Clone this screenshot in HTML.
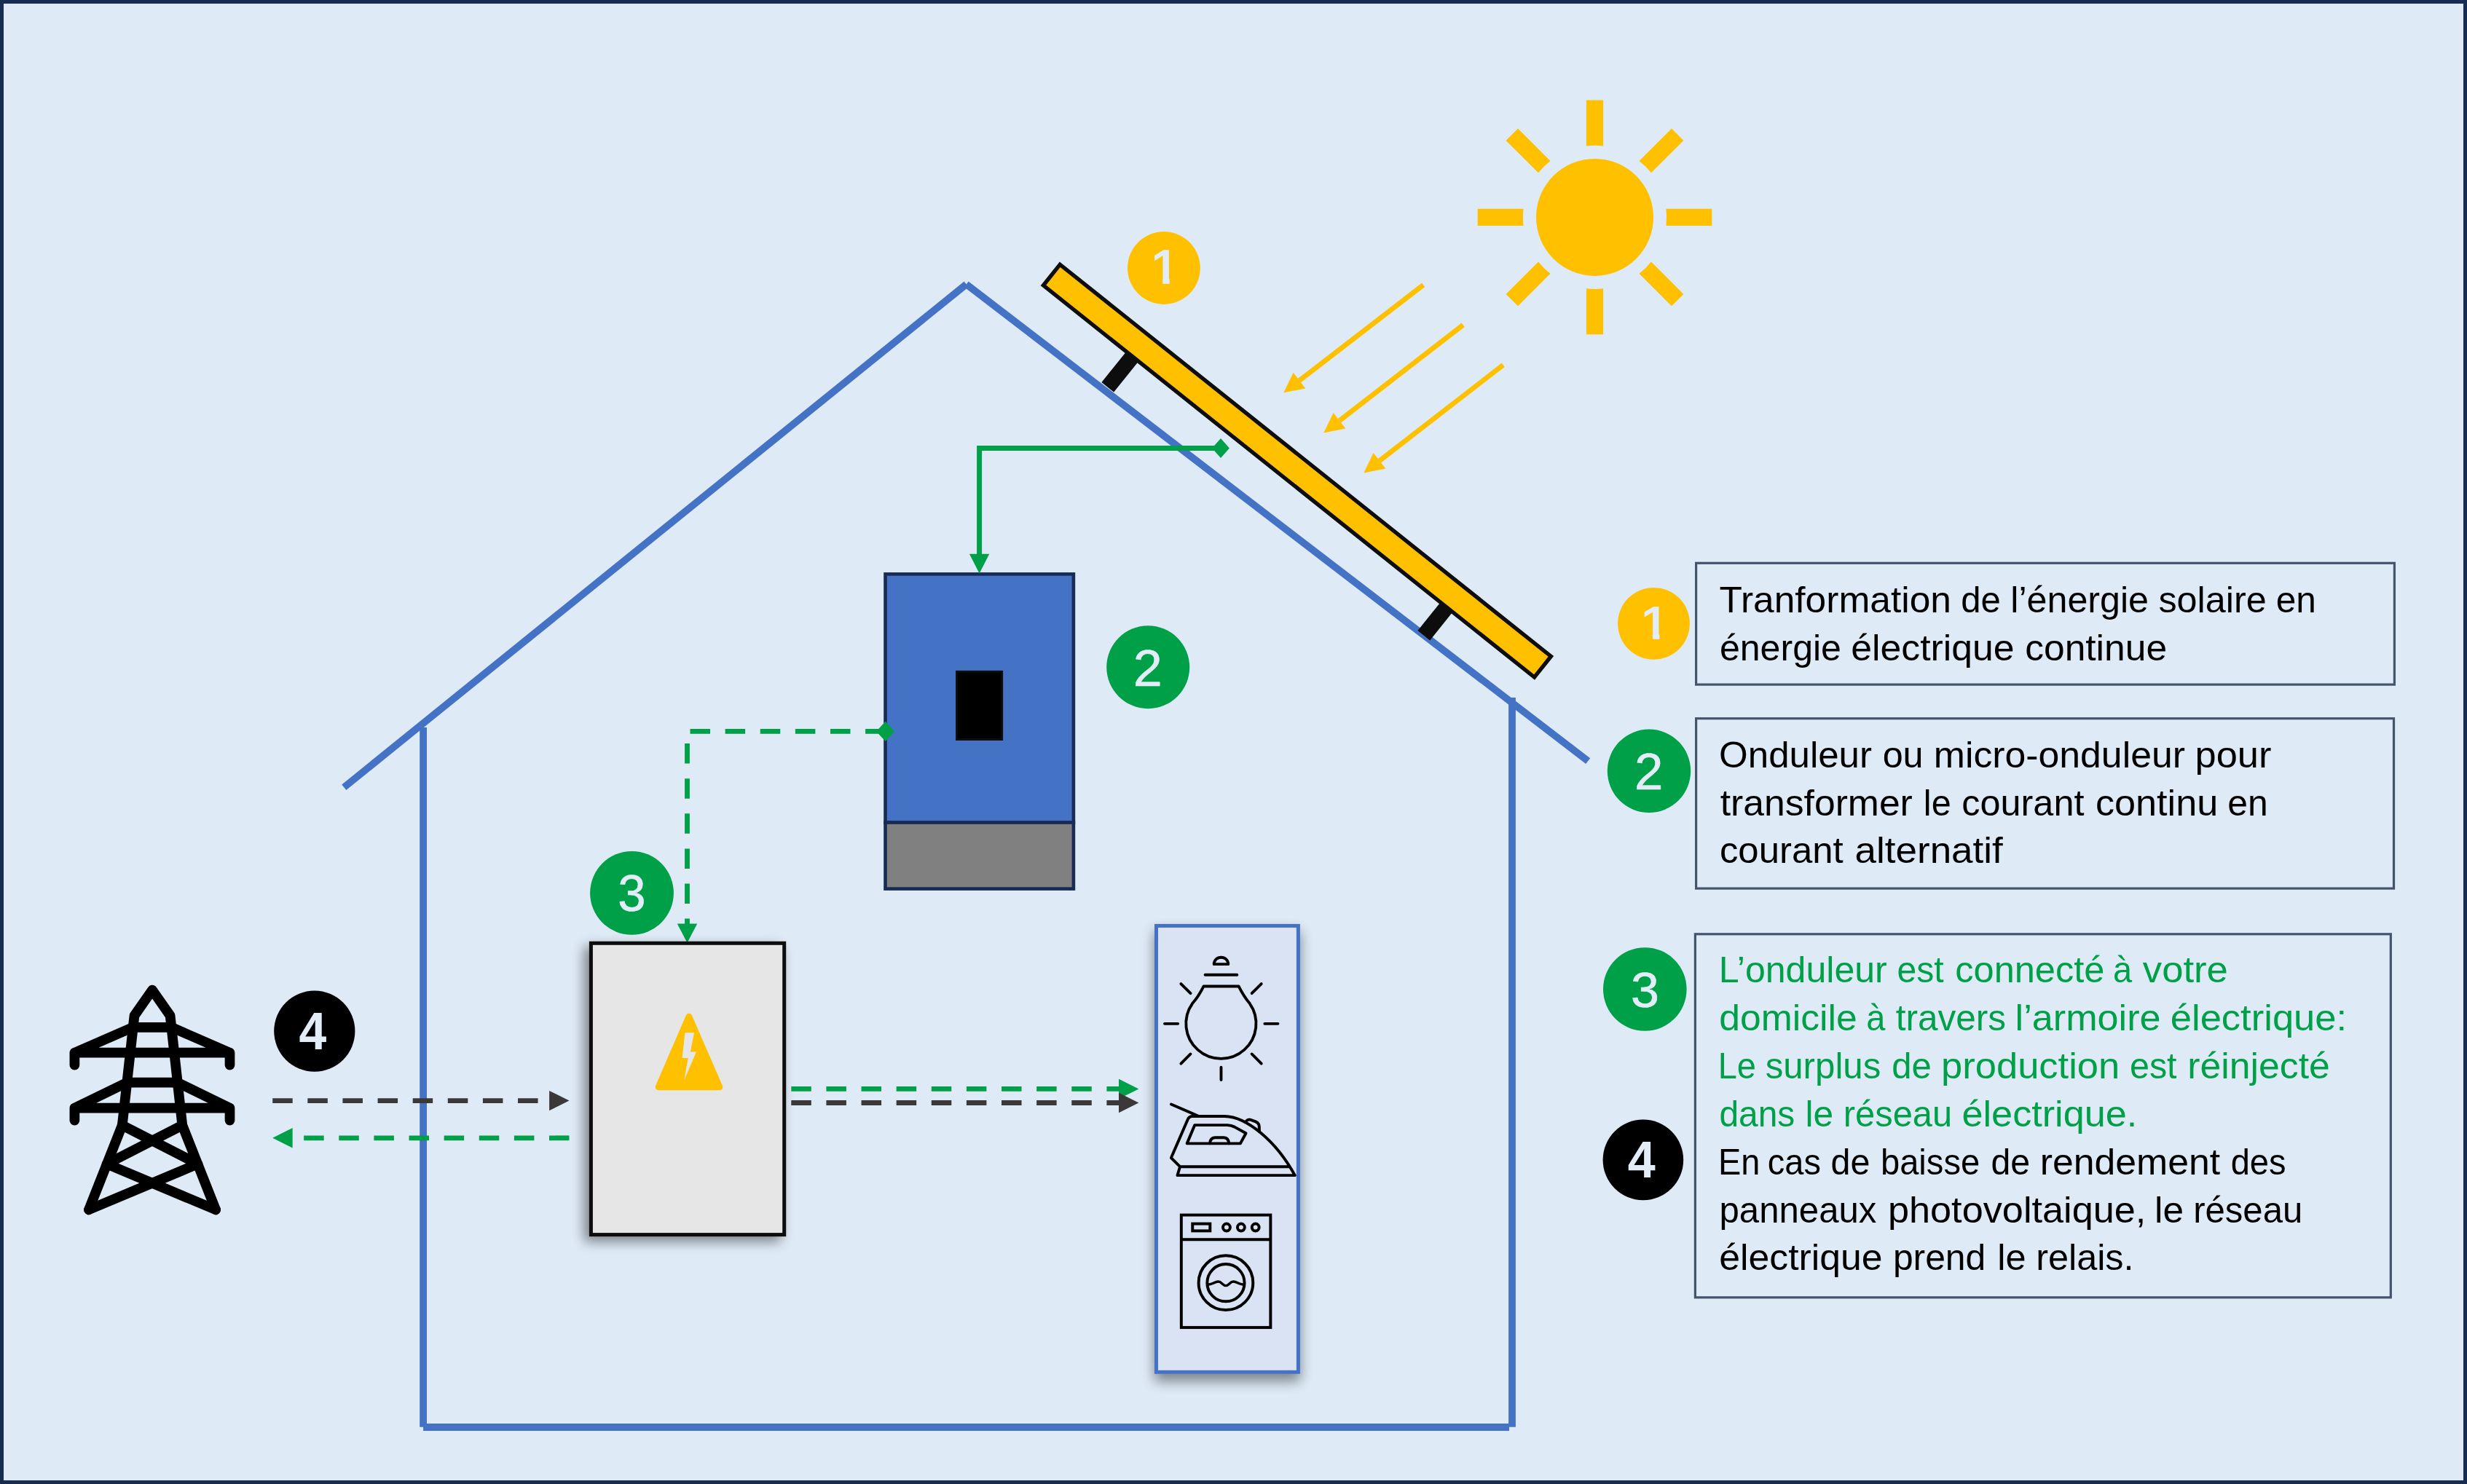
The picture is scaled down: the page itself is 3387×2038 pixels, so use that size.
<!DOCTYPE html>
<html lang="fr"><head><meta charset="utf-8"><title>Autoconsommation photovoltaïque</title>
<style>html,body{margin:0;padding:0;background:#DEEAF6;overflow:hidden;}svg{display:block}</style></head>
<body><svg width="3387" height="2038" viewBox="0 0 3387 2038">
<rect x="0" y="0" width="3387" height="2038" fill="#182B53"/>
<rect x="5" y="5" width="3377" height="2028" fill="#DEEAF6"/>
<g stroke="#4472C4" stroke-width="9.8" fill="none">
<line x1="472.3" y1="1081.2" x2="1326.7" y2="390.4"/>
<line x1="1326.7" y1="390.4" x2="2180.2" y2="1045.1"/>
<line x1="581.1" y1="998.9" x2="581.1" y2="1959.8"/>
<line x1="2076" y1="957.9" x2="2076" y2="1959.8"/>
<line x1="581.1" y1="1960" x2="2072" y2="1960"/>
</g>
<g stroke="#0D0D0D" stroke-width="21.5">
<line x1="1559.8" y1="483.3" x2="1520.8" y2="531.7"/>
<line x1="1990.2" y1="828.6" x2="1954.8" y2="872.8"/>
</g>
<rect x="-431.3" y="-18.3" width="862.6" height="36.6" fill="#FFC000" stroke="#0D0D0D" stroke-width="5.4" transform="translate(1780.9,646.65) rotate(38.6)"/>
<circle cx="2189.5" cy="298.4" r="80.5" fill="#FFC000"/>
<path d="M-11.60,-160.80 L11.60,-160.80 L11.60,-97.92 A98.6,98.6 0 0 0 -11.60,-97.92 Z" fill="#FFC000" transform="translate(2189.5,298.4) rotate(0)"/>
<path d="M-11.60,-160.80 L11.60,-160.80 L11.60,-97.92 A98.6,98.6 0 0 0 -11.60,-97.92 Z" fill="#FFC000" transform="translate(2189.5,298.4) rotate(45)"/>
<path d="M-11.60,-160.80 L11.60,-160.80 L11.60,-97.92 A98.6,98.6 0 0 0 -11.60,-97.92 Z" fill="#FFC000" transform="translate(2189.5,298.4) rotate(90)"/>
<path d="M-11.60,-160.80 L11.60,-160.80 L11.60,-97.92 A98.6,98.6 0 0 0 -11.60,-97.92 Z" fill="#FFC000" transform="translate(2189.5,298.4) rotate(135)"/>
<path d="M-11.60,-160.80 L11.60,-160.80 L11.60,-97.92 A98.6,98.6 0 0 0 -11.60,-97.92 Z" fill="#FFC000" transform="translate(2189.5,298.4) rotate(180)"/>
<path d="M-11.60,-160.80 L11.60,-160.80 L11.60,-97.92 A98.6,98.6 0 0 0 -11.60,-97.92 Z" fill="#FFC000" transform="translate(2189.5,298.4) rotate(225)"/>
<path d="M-11.60,-160.80 L11.60,-160.80 L11.60,-97.92 A98.6,98.6 0 0 0 -11.60,-97.92 Z" fill="#FFC000" transform="translate(2189.5,298.4) rotate(270)"/>
<path d="M-11.60,-160.80 L11.60,-160.80 L11.60,-97.92 A98.6,98.6 0 0 0 -11.60,-97.92 Z" fill="#FFC000" transform="translate(2189.5,298.4) rotate(315)"/>
<path d="M1954.20,391.30 L1784.00,522.57" stroke="#FFC000" stroke-width="6.85" fill="none"/><polygon points="1762.30,539.30 1775.63,511.72 1792.36,533.42" fill="#FFC000"/>
<path d="M2008.70,446.20 L1838.96,577.72" stroke="#FFC000" stroke-width="6.85" fill="none"/><polygon points="1817.30,594.50 1830.57,566.89 1847.35,588.55" fill="#FFC000"/>
<path d="M2063.70,501.20 L1893.96,632.72" stroke="#FFC000" stroke-width="6.85" fill="none"/><polygon points="1872.30,649.50 1885.57,621.89 1902.35,643.55" fill="#FFC000"/>
<rect x="1215.5" y="788.4" width="258.4" height="341.2" fill="#4472C4" stroke="#182B53" stroke-width="4.6"/>
<rect x="1215.5" y="1129.6" width="258.4" height="91" fill="#808080" stroke="#182B53" stroke-width="4.6"/>
<rect x="1313.6" y="922.4" width="62" height="93.1" fill="#000" stroke="#0D0D0D" stroke-width="3"/>
<path d="M1676,615.6 L1344.6,615.6 L1344.6,762" stroke="#00A048" stroke-width="7" fill="none"/>
<polygon points="1330.9,760.7 1358.3,760.7 1344.6,787.4" fill="#00A048"/>
<polygon points="1664.1,615.6 1676,602.1 1687.9,615.6 1676,629.1" fill="#00A048"/>
<path d="M1215.6,1004.4 L943.5,1004.4 L943.5,1270" stroke="#00A048" stroke-width="6.85" stroke-dasharray="27.5 20.62" fill="none"/>
<polygon points="929.8,1268.6 957.2,1268.6 943.5,1294.8" fill="#00A048"/>
<polygon points="1203.0,1004.4 1215.6,990.8 1228.1999999999998,1004.4 1215.6,1018.0" fill="#00A048"/>
<defs>
<filter id="sh1" x="-20%" y="-20%" width="140%" height="140%"><feGaussianBlur in="SourceAlpha" stdDeviation="8.5"/><feOffset dx="-7" dy="7"/><feComponentTransfer><feFuncA type="linear" slope="0.45"/></feComponentTransfer><feMerge><feMergeNode/><feMergeNode in="SourceGraphic"/></feMerge></filter>
<filter id="sh2" x="-30%" y="-10%" width="160%" height="120%"><feGaussianBlur in="SourceAlpha" stdDeviation="9"/><feOffset dx="0" dy="10"/><feComponentTransfer><feFuncA type="linear" slope="0.45"/></feComponentTransfer><feMerge><feMergeNode/><feMergeNode in="SourceGraphic"/></feMerge></filter>
</defs>
<rect x="811.4" y="1295.3" width="265.3" height="400.3" fill="#E6E6E6" stroke="#0D0D0D" stroke-width="5" filter="url(#sh1)"/>
<polygon points="945.9,1396.1 904.1,1492.8 987.9,1492.8" fill="#FFC000" stroke="#FFC000" stroke-width="8.7" stroke-linejoin="round"/>
<polygon points="940.35,1418.32 952.99,1418.32 947.93,1444.61 956.02,1444.61 939.14,1483.73 944.70,1452.90 936.61,1452.90" fill="#E6E6E6"/>
<rect x="1587.5" y="1271.4" width="194.9" height="612.9" fill="#DAE3F3" stroke="#4472C4" stroke-width="5" filter="url(#sh2)"/>
<g transform="translate(1570,1250) scale(0.16849)" stroke="#000" stroke-width="23" fill="none" stroke-linecap="round" stroke-linejoin="round">
<path d="M490,620 L775,620 C810,690 830,720 865,760 A285.5,285.5 0 1 1 398,760 C435,720 455,690 490,620 Z"/>
<line x1="502" y1="527" x2="762" y2="527"/>
<path d="M574,440 A58,56 0 0 1 690,440 Z"/>
<line x1="172" y1="925" x2="280" y2="925"/><line x1="987" y1="925" x2="1095" y2="925"/>
<line x1="632" y1="1280" x2="632" y2="1383"/>
<line x1="305" y1="600" x2="383" y2="678"/><line x1="960" y1="600" x2="882" y2="678"/>
<line x1="305" y1="1250" x2="383" y2="1172"/><line x1="960" y1="1250" x2="882" y2="1172"/>
</g>
<g transform="translate(1570,1490) scale(0.10110)" stroke="#000" stroke-width="39" fill="none" stroke-linecap="round" stroke-linejoin="round">
<line x1="375" y1="262" x2="740" y2="420"/>
<path d="M495,1110 L375,990 L600,470 Q615,428 660,425 L1100,425 C1400,430 1800,760 2055,1228 L460,1228 L495,1110 L1975,1110"/>
<path d="M695,545 L1140,545 Q1190,548 1235,570 L1390,655 L1315,795 L590,795 Z"/>
<path d="M900,795 Q905,720 970,715 L1090,715 Q1155,720 1160,795"/>
<path d="M1392,492 Q1420,462 1455,474 L1522,498 Q1570,520 1570,562 L1573,628"/>
</g>
<g transform="translate(1590,1640) scale(0.14148)" stroke="#000" stroke-width="28" fill="none">
<rect x="225" y="202" width="866" height="1092"/>
<line x1="225" y1="440" x2="1091" y2="440"/>
<rect x="334" y="287" width="170" height="69"/>
<circle cx="664" cy="322" r="35"/><circle cx="805" cy="322" r="35"/><circle cx="945" cy="322" r="35"/>
<circle cx="657" cy="860" r="264"/><circle cx="657" cy="860" r="181"/>
<path d="M486,876 C522,882 548,848 584,848 C616,848 628,888 657,888 C686,888 698,848 730,848 C766,848 792,882 828,876" stroke-width="24"/>
</g>
<path d="M1086.30,1495.40 L1536.00,1495.40" stroke="#00A048" stroke-width="6.85" fill="none" stroke-dasharray="27.5 20.62"/><polygon points="1563.40,1495.40 1536.00,1509.10 1536.00,1481.70" fill="#00A048"/>
<path d="M1086.30,1514.50 L1536.00,1514.50" stroke="#3B3838" stroke-width="6.85" fill="none" stroke-dasharray="27.5 20.62"/><polygon points="1563.40,1514.50 1536.00,1528.20 1536.00,1500.80" fill="#3B3838"/>
<path d="M374.20,1511.60 L754.10,1511.60" stroke="#3B3838" stroke-width="6.85" fill="none" stroke-dasharray="27.5 20.62"/><polygon points="781.50,1511.60 754.10,1525.30 754.10,1497.90" fill="#3B3838"/>
<path d="M781.50,1562.80 L401.60,1562.80" stroke="#00A048" stroke-width="6.85" fill="none" stroke-dasharray="27.5 20.62"/><polygon points="374.20,1562.80 401.60,1549.10 401.60,1576.50" fill="#00A048"/>
<g stroke="#000" stroke-width="13.7" fill="none" stroke-linecap="round" stroke-linejoin="round">
<path d="M122,1661.3 L167.8,1545.3 L184.5,1394.7 L209.05,1359.6 L233.6,1394.7 L250.3,1545.3 L296.1,1661.3"/>
<path d="M102.4,1462.7 L102.4,1445.7 L182.6,1410.8 L235.5,1410.8 L315.5,1445.7 L315.5,1462.7 M102.4,1445.7 L315.5,1445.7"/>
<path d="M102.4,1538.7 L102.4,1521.7 L174.4,1486.7 L243.7,1486.7 L315.5,1521.7 L315.5,1538.7 M102.4,1521.7 L315.5,1521.7"/>
<path d="M167.8,1545.3 L271.5,1598.5 L122,1661.3 M250.3,1545.3 L146.6,1598.5 L296.1,1661.3"/>
</g>
<circle cx="1597.9" cy="368" r="49.9" fill="#FFC000"/>
<circle cx="1576.2" cy="916.2" r="57" fill="#00A048"/>
<circle cx="867.5" cy="1226.4" r="57.4" fill="#00A048"/>
<circle cx="431.8" cy="1416.1" r="55.6" fill="#000"/>
<circle cx="2270.5" cy="856.3" r="49.4" fill="#FFC000"/>
<circle cx="2264" cy="1058.8" r="57.2" fill="#00A048"/>
<circle cx="2258.3" cy="1358.5" r="57.3" fill="#00A048"/>
<circle cx="2255.9" cy="1592.9" r="55.3" fill="#000"/>
<g fill="none" stroke="#44546A" stroke-width="3.2">
<rect x="2328.6" y="773.3" width="958.8" height="166.8"/>
<rect x="2328.6" y="986.7" width="957.9" height="233.4"/>
<rect x="2327.4" y="1282.8" width="954.9" height="499"/>
</g>
<g font-family='"Liberation Sans", sans-serif'>
<defs><clipPath id="cl0"><rect x="1581.10" y="339.80" width="27.60" height="42.62"/><rect x="1596.23" y="343.80" width="9.47" height="46.50"/></clipPath><clipPath id="cl4"><rect x="2253.90" y="829.00" width="27.40" height="41.73"/><rect x="2268.91" y="833.00" width="9.39" height="45.50"/></clipPath></defs>
<g clip-path="url(#cl0)"><text transform="translate(1578.70,388.55) scale(1.1615,1)" font-size="63.95" fill="#E3EDF8" stroke="#E3EDF8" stroke-width="1.5">1</text></g>
<text transform="translate(1555.63,941.90) scale(1.0254,1)" font-size="70.12" font-weight="normal" fill="#E3EDF8" stroke="#E3EDF8" stroke-width="0.6" stroke-linejoin="round">2</text>
<text transform="translate(848.35,1250.89) scale(0.9718,1)" font-size="70.96" font-weight="normal" fill="#E3EDF8" stroke="#E3EDF8" stroke-width="0.6" stroke-linejoin="round">3</text>
<text transform="translate(410.60,1440.80) scale(0.9437,1)" font-size="71.96" font-weight="bold" fill="#E3EDF8">4</text>
<g clip-path="url(#cl4)"><text transform="translate(2251.58,876.75) scale(1.1754,1)" font-size="62.50" fill="#E3EDF8" stroke="#E3EDF8" stroke-width="1.5">1</text></g>
<text transform="translate(2243.88,1084.00) scale(0.9960,1)" font-size="71.11" font-weight="normal" fill="#E3EDF8" stroke="#E3EDF8" stroke-width="0.6" stroke-linejoin="round">2</text>
<text transform="translate(2238.91,1382.63) scale(1.0224,1)" font-size="68.45" font-weight="normal" fill="#E3EDF8" stroke="#E3EDF8" stroke-width="0.6" stroke-linejoin="round">3</text>
<text transform="translate(2234.70,1616.70) scale(0.9639,1)" font-size="70.83" font-weight="bold" fill="#E3EDF8">4</text>
<g font-size="50.0">
<text y="841.0" fill="#000" xml:space="preserve"><tspan x="2360.40" textLength="318.49" lengthAdjust="spacingAndGlyphs">Tranformation</tspan> <tspan x="2692.17" textLength="54.62" lengthAdjust="spacingAndGlyphs">de</tspan> <tspan x="2760.26" textLength="189.77" lengthAdjust="spacingAndGlyphs">l’énergie</tspan> <tspan x="2963.41" textLength="148.33" lengthAdjust="spacingAndGlyphs">solaire</tspan> <tspan x="3124.65" textLength="55.13" lengthAdjust="spacingAndGlyphs">en</tspan></text>
<text y="906.7" fill="#000" xml:space="preserve"><tspan x="2360.94" textLength="166.99" lengthAdjust="spacingAndGlyphs">énergie</tspan> <tspan x="2541.28" textLength="224.31" lengthAdjust="spacingAndGlyphs">électrique</tspan> <tspan x="2780.19" textLength="194.90" lengthAdjust="spacingAndGlyphs">continue</tspan></text>
<text y="1053.9" fill="#000" xml:space="preserve"><tspan x="2360.11" textLength="209.84" lengthAdjust="spacingAndGlyphs">Onduleur</tspan> <tspan x="2584.63" textLength="56.00" lengthAdjust="spacingAndGlyphs">ou</tspan> <tspan x="2654.77" textLength="345.19" lengthAdjust="spacingAndGlyphs">micro-onduleur</tspan> <tspan x="3013.52" textLength="104.93" lengthAdjust="spacingAndGlyphs">pour</tspan></text>
<text y="1119.6" fill="#000" xml:space="preserve"><tspan x="2361.70" textLength="264.15" lengthAdjust="spacingAndGlyphs">transformer</tspan> <tspan x="2640.86" textLength="37.80" lengthAdjust="spacingAndGlyphs">le</tspan> <tspan x="2693.33" textLength="168.10" lengthAdjust="spacingAndGlyphs">courant</tspan> <tspan x="2876.97" textLength="168.26" lengthAdjust="spacingAndGlyphs">continu</tspan> <tspan x="3058.24" textLength="55.46" lengthAdjust="spacingAndGlyphs">en</tspan></text>
<text y="1185.2" fill="#000" xml:space="preserve"><tspan x="2360.91" textLength="169.72" lengthAdjust="spacingAndGlyphs">courant</tspan> <tspan x="2546.64" textLength="203.17" lengthAdjust="spacingAndGlyphs">alternatif</tspan></text>
<text y="1348.8" fill="#00A048" xml:space="preserve"><tspan x="2359.69" textLength="231.06" lengthAdjust="spacingAndGlyphs">L’onduleur</tspan> <tspan x="2604.60" textLength="64.04" lengthAdjust="spacingAndGlyphs">est</tspan> <tspan x="2684.32" textLength="205.03" lengthAdjust="spacingAndGlyphs">connecté</tspan> <tspan x="2901.00" textLength="26.14" lengthAdjust="spacingAndGlyphs">à</tspan> <tspan x="2941.80" textLength="117.14" lengthAdjust="spacingAndGlyphs">votre</tspan></text>
<text y="1414.7" fill="#00A048" xml:space="preserve"><tspan x="2360.29" textLength="189.51" lengthAdjust="spacingAndGlyphs">domicile</tspan> <tspan x="2562.25" textLength="26.14" lengthAdjust="spacingAndGlyphs">à</tspan> <tspan x="2602.70" textLength="151.25" lengthAdjust="spacingAndGlyphs">travers</tspan> <tspan x="2766.64" textLength="199.87" lengthAdjust="spacingAndGlyphs">l’armoire</tspan> <tspan x="2979.76" textLength="242.39" lengthAdjust="spacingAndGlyphs">électrique:</tspan></text>
<text y="1480.7" fill="#00A048" xml:space="preserve"><tspan x="2358.73" textLength="52.28" lengthAdjust="spacingAndGlyphs">Le</tspan> <tspan x="2423.63" textLength="158.71" lengthAdjust="spacingAndGlyphs">surplus</tspan> <tspan x="2597.27" textLength="54.62" lengthAdjust="spacingAndGlyphs">de</tspan> <tspan x="2665.12" textLength="245.13" lengthAdjust="spacingAndGlyphs">production</tspan> <tspan x="2923.99" textLength="64.55" lengthAdjust="spacingAndGlyphs">est</tspan> <tspan x="3003.27" textLength="195.53" lengthAdjust="spacingAndGlyphs">réinjecté</tspan></text>
<text y="1546.6" fill="#00A048" xml:space="preserve"><tspan x="2360.40" textLength="103.89" lengthAdjust="spacingAndGlyphs">dans</tspan> <tspan x="2478.50" textLength="38.61" lengthAdjust="spacingAndGlyphs">le</tspan> <tspan x="2530.85" textLength="149.29" lengthAdjust="spacingAndGlyphs">réseau</tspan> <tspan x="2693.47" textLength="240.85" lengthAdjust="spacingAndGlyphs">électrique.</tspan></text>
<text y="1612.5" fill="#000" xml:space="preserve"><tspan x="2358.94" textLength="57.49" lengthAdjust="spacingAndGlyphs">En</tspan> <tspan x="2426.78" textLength="73.14" lengthAdjust="spacingAndGlyphs">cas</tspan> <tspan x="2513.59" textLength="53.88" lengthAdjust="spacingAndGlyphs">de</tspan> <tspan x="2581.95" textLength="136.26" lengthAdjust="spacingAndGlyphs">baisse</tspan> <tspan x="2733.49" textLength="53.66" lengthAdjust="spacingAndGlyphs">de</tspan> <tspan x="2800.66" textLength="247.46" lengthAdjust="spacingAndGlyphs">rendement</tspan> <tspan x="3062.63" textLength="75.94" lengthAdjust="spacingAndGlyphs">des</tspan></text>
<text y="1678.5" fill="#000" xml:space="preserve"><tspan x="2360.53" textLength="215.87" lengthAdjust="spacingAndGlyphs">panneaux</tspan> <tspan x="2591.93" textLength="354.47" lengthAdjust="spacingAndGlyphs">photovoltaique,</tspan> <tspan x="2958.09" textLength="39.99" lengthAdjust="spacingAndGlyphs">le</tspan> <tspan x="3011.23" textLength="150.02" lengthAdjust="spacingAndGlyphs">réseau</tspan></text>
<text y="1744.4" fill="#000" xml:space="preserve"><tspan x="2360.28" textLength="224.31" lengthAdjust="spacingAndGlyphs">électrique</tspan> <tspan x="2598.89" textLength="127.41" lengthAdjust="spacingAndGlyphs">prend</tspan> <tspan x="2742.34" textLength="39.30" lengthAdjust="spacingAndGlyphs">le</tspan> <tspan x="2795.15" textLength="134.40" lengthAdjust="spacingAndGlyphs">relais.</tspan></text>
</g></g>
</svg></body></html>
